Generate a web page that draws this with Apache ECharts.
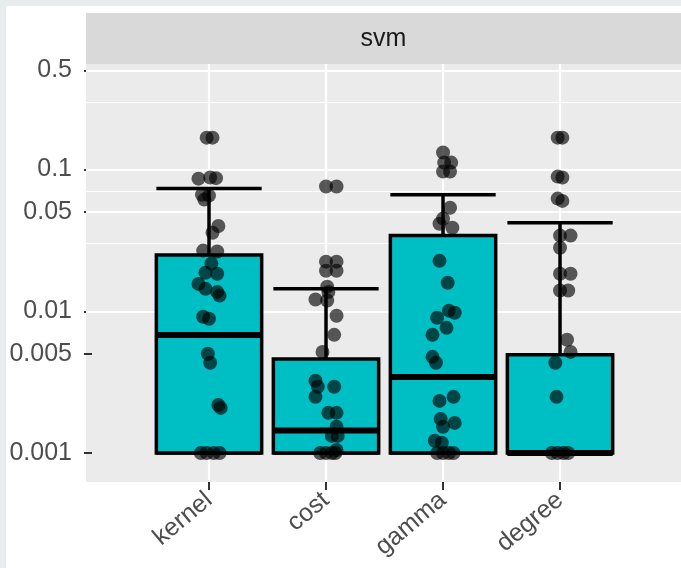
<!DOCTYPE html>
<html><head><meta charset="utf-8">
<script src="https://cdn.jsdelivr.net/npm/echarts@6/dist/echarts.min.js"></script>
<style>html,body{margin:0;padding:0;background:#fff}#c{width:681px;height:568px}</style>
</head><body><div id="c"></div>
<script>
const categories = ['kernel', 'cost', 'gamma', 'degree'];
const panelTitle = 'svm';
const yTickValues = [0.001, 0.005, 0.01, 0.05, 0.1, 0.5];
const yTickLabels = ['0.001', '0.005', '0.01', '0.05', '0.1', '0.5'];
const yMinorValues = [0.003, 0.0075, 0.03, 0.075, 0.3];

const boxLower  = [0.001, 0.001, 0.001, 0.001];
const boxQ1     = [0.001, 0.001, 0.001, 0.001];
const boxMedian = [0.0068, 0.00144, 0.00344, 0.001];
const boxQ3     = [0.025, 0.0046, 0.0342, 0.00493];
const boxUpper  = [0.0735, 0.0144, 0.0665, 0.0422];

// [jitter offset (category units), value]
const kernelPoints = [
  [-0.02, 0.168], [0.03, 0.168],
  [-0.09, 0.0863], [0.01, 0.088], [0.06, 0.087],
  [-0.06, 0.0665], [0.0, 0.0655], [-0.04, 0.0614],
  [0.08, 0.040], [0.03, 0.0358],
  [-0.05, 0.0268], [0.07, 0.0264],
  [0.02, 0.0217],
  [-0.03, 0.0187], [0.07, 0.0184],
  [-0.09, 0.0156], [-0.03, 0.0144],
  [0.07, 0.0137], [0.09, 0.0129],
  [-0.05, 0.00914], [0.0, 0.00885],
  [-0.01, 0.00501], [0.01, 0.00433],
  [0.08, 0.00218], [0.10, 0.00208],
  [-0.07, 0.001], [-0.02, 0.001], [0.04, 0.001], [0.09, 0.001]
];
const costPoints = [
  [0.0, 0.0759], [0.09, 0.0759],
  [0.0, 0.0224], [0.09, 0.0224],
  [0.0, 0.0193], [0.09, 0.0193],
  [0.01, 0.0149], [0.02, 0.0137],
  [-0.09, 0.0121], [0.01, 0.0119],
  [0.09, 0.0093],
  [0.07, 0.00682],
  [-0.03, 0.00517],
  [-0.09, 0.00323], [-0.07, 0.00293], [-0.09, 0.00249], [0.07, 0.00293],
  [0.02, 0.00192], [0.09, 0.00192],
  [0.09, 0.00153], [0.05, 0.00132], [0.10, 0.00132],
  [0.09, 0.00105],
  [-0.05, 0.001], [0.0, 0.001], [0.05, 0.001], [0.08, 0.001]
];
const gammaPoints = [
  [0.0, 0.132], [0.01, 0.112], [0.07, 0.112], [0.0, 0.0968], [0.06, 0.0968],
  [0.06, 0.0538],
  [0.0, 0.0451], [-0.03, 0.0415], [0.08, 0.0389],
  [-0.03, 0.0227],
  [0.04, 0.0159],
  [0.05, 0.0101], [0.10, 0.00976], [-0.05, 0.009],
  [0.03, 0.00764], [-0.09, 0.00682],
  [-0.09, 0.00477], [-0.06, 0.00433],
  [-0.03, 0.00233], [0.09, 0.00249],
  [-0.02, 0.00174], [0.10, 0.00163], [0.0, 0.00153],
  [-0.07, 0.00122], [-0.01, 0.00118],
  [-0.05, 0.001], [0.0, 0.001], [0.05, 0.001], [0.09, 0.001]
];
const degreePoints = [
  [-0.02, 0.168], [0.02, 0.168],
  [-0.02, 0.0892], [0.02, 0.0879],
  [-0.02, 0.0624], [0.02, 0.0601],
  [0.0, 0.0342], [0.09, 0.0342],
  [0.0, 0.0281],
  [0.0, 0.0184], [0.09, 0.0184],
  [0.0, 0.0140], [0.07, 0.0140],
  [0.06, 0.00629], [0.09, 0.00517],
  [-0.04, 0.00433],
  [-0.03, 0.00249],
  [-0.07, 0.001], [-0.02, 0.001], [0.03, 0.001], [0.07, 0.001]
];
const pointSets = [kernelPoints, costPoints, gammaPoints, degreePoints];

const FONT = '"Liberation Sans", Arial, sans-serif';
const boxData = categories.map((c, i) => [i + 1, boxLower[i], boxQ1[i], boxMedian[i], boxQ3[i], boxUpper[i]]);
const scatterData = [];
pointSets.forEach((set, i) => set.forEach(p => scatterData.push([i + 1 + p[0], p[1]])));

const gridLines = [];
yTickValues.forEach(v => gridLines.push({ yAxis: v, lineStyle: { color: '#fff', width: 2.2, type: 'solid' } }));
yMinorValues.forEach(v => gridLines.push({ yAxis: v, lineStyle: { color: '#fff', width: 1.2, type: 'solid' } }));
categories.forEach((c, i) => gridLines.push({ xAxis: i + 1, lineStyle: { color: '#fff', width: 2.2, type: 'solid' } }));

const chart = echarts.init(document.getElementById('c'), null, { renderer: 'canvas' });
chart.setOption({
  animation: false,
  backgroundColor: '#ffffff',
  grid: { left: 86, top: 64, right: 0, bottom: 86, show: true, backgroundColor: '#ebebeb', borderWidth: 0 },
  graphic: [
    { type: 'rect', shape: { x: 0, y: 0, width: 681, height: 6 }, style: { fill: '#e9eced' }, silent: true },
    { type: 'rect', shape: { x: 0, y: 0, width: 6, height: 568 }, style: { fill: '#e9eced' }, silent: true },
    { type: 'rect', shape: { x: 86, y: 13, width: 595, height: 51 }, style: { fill: '#d9d9d9' }, silent: true },
    { type: 'text', x: 383.5, y: 39, style: { text: panelTitle, fill: '#1a1a1a', font: '25px ' + FONT, textAlign: 'center', textVerticalAlign: 'middle' }, silent: true }
  ],
  xAxis: {
    type: 'value', min: -0.0513, max: 5.034,
    axisLine: { show: false },
    splitLine: { show: false },
    axisTick: { show: true, length: 8, customValues: [1, 2, 3, 4], lineStyle: { color: '#333333', width: 2 } },
    axisLabel: {
      customValues: [1, 2, 3, 4],
      formatter: v => categories[Math.round(v) - 1] || '',
      rotate: 40, margin: 15, fontSize: 25, color: '#4d4d4d', fontFamily: FONT
    }
  },
  yAxis: {
    type: 'log', logBase: 10, min: 0.000624, max: 0.556,
    axisLine: { show: false },
    splitLine: { show: false },
    minorTick: { show: false },
    minorSplitLine: { show: false },
    axisTick: { show: true, length: 8, customValues: yTickValues, lineStyle: { color: '#333333', width: 2 } },
    axisLabel: {
      customValues: yTickValues,
      formatter: v => { const k = yTickValues.findIndex(t => Math.abs(t - v) / t < 1e-6); return k >= 0 ? yTickLabels[k] : ''; },
      margin: 14, fontSize: 25, color: '#4d4d4d', fontFamily: FONT
    }
  },
  series: [
    {
      type: 'scatter', data: [], silent: true, z: 1,
      markLine: { silent: true, symbol: ['none', 'none'], z: 1, label: { show: false }, data: gridLines, animation: false }
    },
    {
      type: 'custom', z: 2, silent: true,
      encode: { x: 0, y: [1, 2, 3, 4, 5] },
      data: boxData,
      renderItem: function (params, api) {
        const x = api.value(0);
        const hw = 0.45;
        const lo = api.coord([x, api.value(1)]);
        const q1 = api.coord([x, api.value(2)]);
        const md = api.coord([x, api.value(3)]);
        const q3 = api.coord([x, api.value(4)]);
        const hi = api.coord([x, api.value(5)]);
        const xl = api.coord([x - hw, api.value(2)])[0];
        const xr = api.coord([x + hw, api.value(2)])[0];
        const ls = { stroke: '#000', lineWidth: 3.5 };
        return {
          type: 'group',
          children: [
            { type: 'line', shape: { x1: q3[0], y1: q3[1], x2: hi[0], y2: hi[1] }, style: ls },
            { type: 'line', shape: { x1: xl, y1: hi[1], x2: xr, y2: hi[1] }, style: ls },
            { type: 'line', shape: { x1: q1[0], y1: q1[1], x2: lo[0], y2: lo[1] }, style: ls },
            { type: 'line', shape: { x1: xl, y1: lo[1], x2: xr, y2: lo[1] }, style: ls },
            { type: 'rect', shape: { x: xl, y: q3[1], width: xr - xl, height: q1[1] - q3[1] }, style: { fill: '#00BFC4', stroke: '#000', lineWidth: 3.5 } },
            { type: 'line', shape: { x1: xl, y1: md[1], x2: xr, y2: md[1] }, style: { stroke: '#000', lineWidth: 6 } }
          ]
        };
      }
    },
    {
      type: 'scatter', z: 3, silent: true,
      data: scatterData,
      symbol: 'circle', symbolSize: 14,
      itemStyle: { color: 'rgba(0,0,0,0.8)' }
    }
  ]
});
</script></body></html>
